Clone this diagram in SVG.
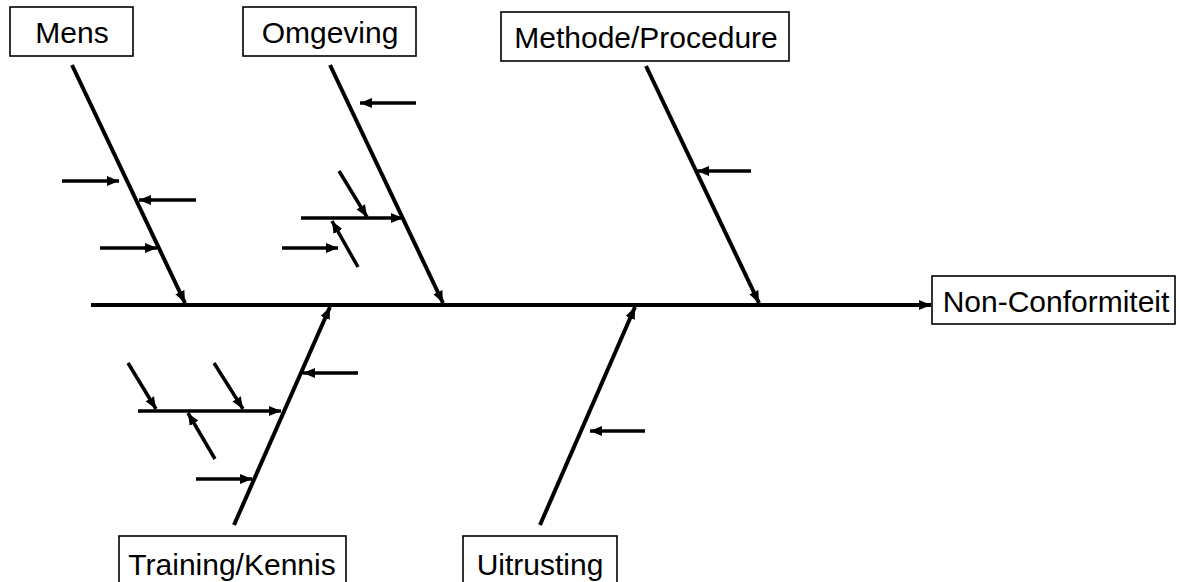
<svg xmlns="http://www.w3.org/2000/svg" width="1179" height="582" viewBox="0 0 1179 582">
<style>
.box{fill:#fff;stroke:#000;stroke-width:1.6}
.lbl{font-family:"Liberation Sans",Arial,sans-serif;font-size:30px;fill:#000;text-anchor:middle}
.bone{stroke:#000;stroke-width:4;fill:none}
.sub{stroke:#000;stroke-width:3.5;fill:none}
.arr{marker-end:url(#ah)}
</style>
<defs>
<marker id="ah" markerUnits="userSpaceOnUse" markerWidth="13" markerHeight="11" refX="12" refY="5.5" orient="auto">
<path d="M0,0.5 L12,5.5 L0,10.5 z" fill="#000"/>
</marker>
</defs>
<rect width="1179" height="582" fill="#fff"/>
<g id="connectors">
<line class="bone arr" x1="91" y1="305" x2="931" y2="305"/>
<line class="bone arr" x1="72" y1="65" x2="185" y2="303"/>
<line class="bone arr" x1="330" y1="65" x2="443" y2="303"/>
<line class="bone arr" x1="646" y1="66" x2="759" y2="303"/>
<line class="bone arr" x1="234" y1="525" x2="330" y2="307"/>
<line class="bone arr" x1="540" y1="525" x2="635" y2="307"/>
<line class="sub arr" x1="62" y1="181" x2="119" y2="181"/>
<line class="sub arr" x1="196" y1="200" x2="139" y2="200"/>
<line class="sub arr" x1="100" y1="248" x2="157" y2="248"/>
<line class="sub arr" x1="416" y1="103" x2="360" y2="103"/>
<line class="sub arr" x1="301" y1="218" x2="403" y2="218"/>
<line class="sub arr" x1="339" y1="171" x2="367" y2="217"/>
<line class="sub arr" x1="358" y1="267" x2="332" y2="221"/>
<line class="sub arr" x1="282" y1="248" x2="338" y2="248"/>
<line class="sub arr" x1="751" y1="171" x2="697" y2="171"/>
<line class="sub arr" x1="358" y1="373" x2="303" y2="373"/>
<line class="sub arr" x1="138" y1="411" x2="281" y2="411"/>
<line class="sub arr" x1="128" y1="363" x2="156" y2="409"/>
<line class="sub arr" x1="214" y1="363" x2="243" y2="409"/>
<line class="sub arr" x1="215" y1="459" x2="188" y2="413"/>
<line class="sub arr" x1="196" y1="479" x2="252" y2="479"/>
<line class="sub arr" x1="645" y1="431" x2="590" y2="431"/>
</g>
<g id="mens"><rect class="box" x="10" y="7" width="123" height="49"/><text class="lbl" x="72" y="43">Mens</text></g>
<g id="omgeving"><rect class="box" x="243" y="7" width="173" height="49"/><text class="lbl" x="330" y="43">Omgeving</text></g>
<g id="methode"><rect class="box" x="501" y="12" width="288" height="49"/><text class="lbl" x="646" y="48">Methode/Procedure</text></g>
<g id="nonconformiteit"><rect class="box" x="932" y="276" width="243" height="48"/><text class="lbl" x="1056" y="312">Non-Conformiteit</text></g>
<g id="training"><rect class="box" x="119" y="536" width="227" height="60"/><text class="lbl" x="232" y="575">Training/Kennis</text></g>
<g id="uitrusting"><rect class="box" x="463" y="536" width="154" height="60"/><text class="lbl" x="540" y="575">Uitrusting</text></g>
</svg>
